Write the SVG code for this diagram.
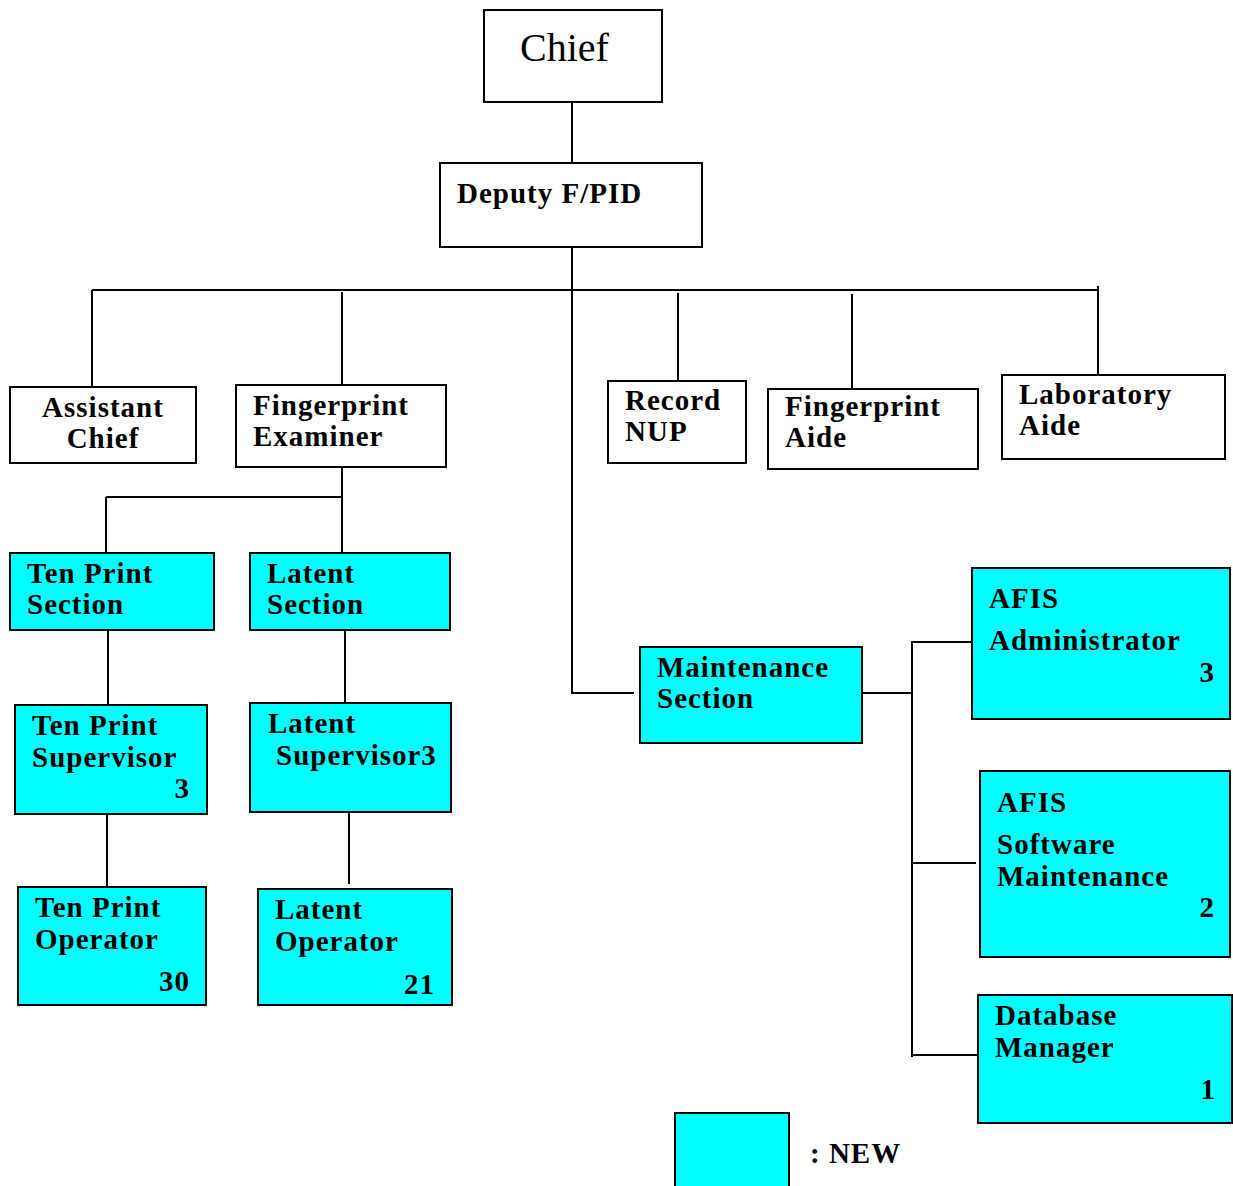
<svg xmlns="http://www.w3.org/2000/svg" width="1233" height="1186" viewBox="0 0 1233 1186">
  <style>
    .box { fill: #ffffff; stroke: #000000; stroke-width: 2; }
    .new { fill: #00ffff; stroke: #000000; stroke-width: 2; }
    .lbl { font-family: "Liberation Serif", "Times New Roman", serif; font-weight: bold; font-size: 29px; letter-spacing: 1px; fill: #000000; }
    .num { text-anchor: end; }
    .title { font-family: "Liberation Serif", "Times New Roman", serif; font-size: 40px; fill: #000000; }
    .wire { fill: none; stroke: #000000; stroke-width: 2; }
  </style>
  <rect width="1233" height="1186" fill="#ffffff"/>

  <!-- connectors -->
  <g id="connectors" class="wire">
    <path d="M572 102 V163"/>
    <path d="M572 247 V693 H634"/>
    <path d="M92 290 H1098"/>
    <path d="M92 290 V387"/>
    <path d="M342 292 V385"/>
    <path d="M678 293 V381"/>
    <path d="M852 294 V389"/>
    <path d="M1098 286 V374"/>
    <path d="M342 467 V553"/>
    <path d="M106 497 H342"/>
    <path d="M106 497 V553"/>
    <path d="M108 630 V705"/>
    <path d="M345 630 V703"/>
    <path d="M107 814 V887"/>
    <path d="M349 810 V884"/>
    <path d="M862 693 H912"/>
    <path d="M912 641 V1057"/>
    <path d="M912 642 H972"/>
    <path d="M912 863 H976"/>
    <path d="M912 1055 H978"/>
  </g>

  <g id="chief">
    <rect class="box" x="484" y="10" width="178" height="92"/>
    <text class="title" x="520" y="61">Chief</text>
  </g>
  <g id="deputy">
    <rect class="box" x="440" y="163" width="262" height="84"/>
    <text class="lbl" x="457" y="203">Deputy F/PID</text>
  </g>
  <g id="assistant-chief">
    <rect class="box" x="10" y="387" width="186" height="76"/>
    <text class="lbl" x="103" y="417" text-anchor="middle">Assistant</text>
    <text class="lbl" x="103" y="448" text-anchor="middle">Chief</text>
  </g>
  <g id="fingerprint-examiner">
    <rect class="box" x="236" y="385" width="210" height="82"/>
    <text class="lbl" x="253" y="415">Fingerprint</text>
    <text class="lbl" x="253" y="446">Examiner</text>
  </g>
  <g id="record-nup">
    <rect class="box" x="608" y="381" width="138" height="82"/>
    <text class="lbl" x="625" y="410">Record</text>
    <text class="lbl" x="625" y="441">NUP</text>
  </g>
  <g id="fingerprint-aide">
    <rect class="box" x="768" y="389" width="210" height="80"/>
    <text class="lbl" x="785" y="416">Fingerprint</text>
    <text class="lbl" x="785" y="447">Aide</text>
  </g>
  <g id="laboratory-aide">
    <rect class="box" x="1002" y="375" width="223" height="84"/>
    <text class="lbl" x="1019" y="404">Laboratory</text>
    <text class="lbl" x="1019" y="435">Aide</text>
  </g>

  <g id="ten-print-section">
    <rect class="new" x="10" y="553" width="204" height="77"/>
    <text class="lbl" x="27" y="583">Ten Print</text>
    <text class="lbl" x="27" y="614">Section</text>
  </g>
  <g id="latent-section">
    <rect class="new" x="250" y="553" width="200" height="77"/>
    <text class="lbl" x="267" y="583">Latent</text>
    <text class="lbl" x="267" y="614">Section</text>
  </g>
  <g id="ten-print-supervisor">
    <rect class="new" x="15" y="705" width="192" height="109"/>
    <text class="lbl" x="32" y="735">Ten Print</text>
    <text class="lbl" x="32" y="767">Supervisor</text>
    <text class="lbl num" x="190" y="798">3</text>
  </g>
  <g id="latent-supervisor">
    <rect class="new" x="250" y="703" width="201" height="109"/>
    <text class="lbl" x="268" y="733">Latent</text>
    <text class="lbl" x="276" y="765">Supervisor3</text>
  </g>
  <g id="ten-print-operator">
    <rect class="new" x="18" y="887" width="188" height="118"/>
    <text class="lbl" x="35" y="917">Ten Print</text>
    <text class="lbl" x="35" y="949">Operator</text>
    <text class="lbl num" x="190" y="991">30</text>
  </g>
  <g id="latent-operator">
    <rect class="new" x="258" y="889" width="194" height="116"/>
    <text class="lbl" x="275" y="919">Latent</text>
    <text class="lbl" x="275" y="951">Operator</text>
    <text class="lbl num" x="435" y="994">21</text>
  </g>

  <g id="maintenance-section">
    <rect class="new" x="640" y="647" width="222" height="96"/>
    <text class="lbl" x="657" y="677">Maintenance</text>
    <text class="lbl" x="657" y="708">Section</text>
  </g>
  <g id="afis-administrator">
    <rect class="new" x="972" y="568" width="258" height="151"/>
    <text class="lbl" x="989" y="608">AFIS</text>
    <text class="lbl" x="989" y="650">Administrator</text>
    <text class="lbl num" x="1215" y="682">3</text>
  </g>
  <g id="afis-software-maintenance">
    <rect class="new" x="980" y="771" width="250" height="186"/>
    <text class="lbl" x="997" y="812">AFIS</text>
    <text class="lbl" x="997" y="854">Software</text>
    <text class="lbl" x="997" y="886">Maintenance</text>
    <text class="lbl num" x="1215" y="917">2</text>
  </g>
  <g id="database-manager">
    <rect class="new" x="978" y="995" width="254" height="128"/>
    <text class="lbl" x="995" y="1025">Database</text>
    <text class="lbl" x="995" y="1057">Manager</text>
    <text class="lbl num" x="1216" y="1099">1</text>
  </g>

  <g id="legend">
    <rect class="new" x="675" y="1113" width="114" height="76"/>
    <text class="lbl" x="810" y="1163">: NEW</text>
  </g>
</svg>
